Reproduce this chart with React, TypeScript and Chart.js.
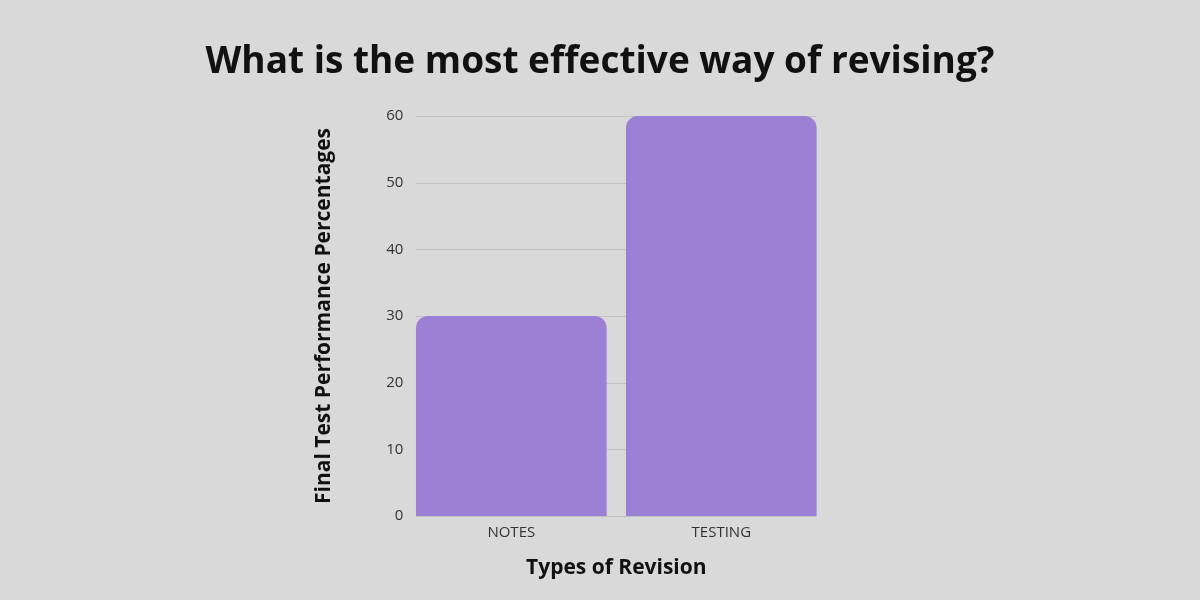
import React, { useEffect, useRef } from "react";
import { Chart, registerables } from "chart.js";

Chart.register(...registerables);

const categories = ["NOTES", "TESTING"];
const values = [30, 60];
const yTicks = [0, 10, 20, 30, 40, 50, 60];

const gridPlugin = {
  id: "barSpanGrid",
  beforeDatasetsDraw(chart: any) {
    const meta = chart.getDatasetMeta(0);
    const bars = meta.data as any[];
    if (!bars.length) return;
    const left = Math.min(...bars.map((b) => b.x - b.width / 2));
    const right = Math.max(...bars.map((b) => b.x + b.width / 2));
    const ys = chart.scales.y;
    const ctx = chart.ctx;
    ctx.save();
    ctx.strokeStyle = "#c2c2c2";
    ctx.lineWidth = 1;
    for (const t of ys.ticks) {
      const y = Math.round(ys.getPixelForValue(t.value)) + 0.5;
      ctx.beginPath();
      ctx.moveTo(left, y);
      ctx.lineTo(right, y);
      ctx.stroke();
    }
    ctx.restore();
  },
};

export default function App() {
  const ref = useRef<HTMLCanvasElement | null>(null);
  useEffect(() => {
    document.body.style.margin = "0";
    document.body.style.background = "#d9d9d9";
    const chart = new Chart(ref.current!, {
      type: "bar",
      data: {
        labels: categories,
        datasets: [
          {
            data: values,
            backgroundColor: "#9b80d5",
            borderRadius: { topLeft: 12, topRight: 12, bottomLeft: 0, bottomRight: 0 },
            borderSkipped: "start",
            barPercentage: 0.908,
            categoryPercentage: 1,
          },
        ],
      },
      plugins: [gridPlugin],
      options: {
        animation: false,
        responsive: false,
        maintainAspectRatio: false,
        layout: { padding: { left: 150, right: 150, top: 0, bottom: 19 } },
        plugins: {
          legend: { display: false },
          tooltip: { enabled: false },
          title: {
            display: true,
            text: "What is the most effective way of revising?",
            color: "#111",
            font: { family: "Open Sans", size: 37, weight: "bold" },
            padding: { top: 40, bottom: 31.6 },
          },
        },
        scales: {
          x: {
            grid: { display: false },
            border: { display: false },
            ticks: { color: "#333", font: { family: "Open Sans", size: 15 }, padding: 0 },
            title: {
              display: true,
              text: "Types of Revision",
              color: "#111",
              font: { family: "Open Sans", size: 21, weight: "bold" },
              padding: 0,
            },
            afterFit: (s: any) => {
              s.height = 65;
            },
          },
          y: {
            min: 0,
            max: 60,
            afterBuildTicks: (s: any) => {
              s.ticks = yTicks.map((v) => ({ value: v }));
            },
            grid: { display: false, drawTicks: false },
            border: { display: false },
            ticks: { color: "#333", font: { family: "Open Sans", size: 15 }, padding: 3 },
            title: {
              display: true,
              text: "Final Test Performance Percentages",
              color: "#111",
              font: { family: "Open Sans", size: 21, weight: "bold" },
              padding: { top: 161.4, bottom: 0 },
            },
            afterFit: (s: any) => {
              s.width = 256.3;
            },
          },
          y2: {
            position: "right",
            display: true,
            min: 0,
            max: 60,
            grid: { display: false, drawTicks: false },
            border: { display: false },
            ticks: { display: false },
            afterFit: (s: any) => {
              s.width = 223.7;
            },
          },
        },
      },
    });
    return () => chart.destroy();
  }, []);
  return (
    <div style={{ width: 1200, height: 600, background: "#d9d9d9" }}>
      <canvas ref={ref} width={1200} height={600} style={{ display: "block" }} />
    </div>
  );
}
